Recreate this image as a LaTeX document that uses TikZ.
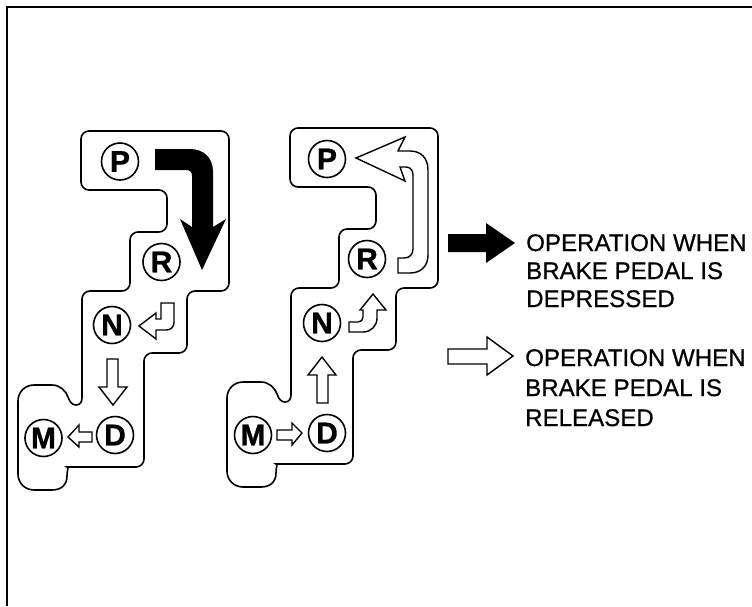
\documentclass[tikz,border=0pt]{standalone}
\usepackage{fontspec}
\setmainfont{Liberation Sans}
\usetikzlibrary{calc}

\tikzset{
	gear/.style={draw,circle,line width=1.6pt,minimum size=37pt,inner sep=0pt,font=\fontsize{30}{30}\selectfont\bfseries\addfontfeature{FakeBold=1}},
	outline/.style={line width=1.6pt},
	hollow/.style={line width=1.4pt,line join=miter,fill=white},
	solid/.style={fill=black,draw=none},
	opnote/.style={align=left,anchor=north west,inner sep=0pt,font=\fontsize{24.1}{28}\selectfont\addfontfeature{FakeBold=0.6}}
}
% shape of the selector gate, same for both panels
\newcommand{\gatepath}{
	\draw[outline,rounded corners=8] (81,131) -- (229,131) -- (229,291) -- (187,291) -- (187,353) -- (144,353) -- (144,467) -- (75,467) [sharp corners]
	.. controls (69,467) and (67,470) .. (67,476) .. controls (67,485) and (61,490) .. (52,490) -- (34,490)
	.. controls (25,490) and (18,483) .. (18,474) -- (18,401) .. controls (18,392) and (25,385) .. (34,385) -- (52,385)
	.. controls (60,385) and (66,391) .. (68,397) .. controls (70,403) and (73,405) .. (76,405) .. controls (80,405) and (82,402) .. (82,398)
	[rounded corners=8] -- (82,291) -- (130,291) -- (130,232) -- (167,232) -- (167,190) -- (81,190) -- cycle;
}

\begin{document}
\begin{tikzpicture}[x=1pt,y=-1pt]
	\useasboundingbox (0,0) rectangle (752,606);
	\fill[white] (0,0) rectangle (752,606);
	\draw[line width=2pt] (6.5,606) -- (6.5,7) -- (752,7);

	% left panel
	\gatepath
	\node[gear] (P1) at (120,161.5) {P};
	\node[gear] (R1) at (161.5,262) {R};
	\node[gear] (N1) at (112,325) {N};
	\node[gear] (D1) at (115,435) {D};
	\node[gear] (M1) at (43.5,438) {M};
	\fill[solid] (155,149) -- (190,149) .. controls (204,149) and (213,158) .. (213,172) -- (213,227) -- (226,219) -- (202,270) -- (180,219) -- (192,227) -- (192,176) .. controls (192,172) and (190,170) .. (186,170) -- (155,170) -- cycle;
	\draw[hollow] (139,326) -- (156,313) -- (156,319) -- (161,319) -- (161,303) -- (174,303) -- (174,322) .. controls (174,327) and (171,330) .. (166,330) -- (156,330) -- (156,339) -- cycle;
	\draw[hollow] (107,359) -- (118,359) -- (118,387) -- (127,387) -- (113,405) -- (99,387) -- (107,387) -- cycle;
	\draw[hollow] (68,437) -- (79,425) -- (79,432) -- (92,432) -- (92,442) -- (79,442) -- (79,447) -- cycle;

	% right panel
	\begin{scope}[shift={(209,-3)}]
	\gatepath
	\end{scope}
	\node[gear] (P2) at (327,159) {P};
	\node[gear] (R2) at (367,259) {R};
	\node[gear] (N2) at (322,323) {N};
	\node[gear] (D2) at (327,433) {D};
	\node[gear] (M2) at (253,435) {M};
	\draw[hollow] (356,158) -- (405,137) -- (398,151) -- (410,151) .. controls (421,151) and (428,158) .. (428,170) -- (428,255) .. controls (428,266) and (421,273) .. (410,273) -- (398,273) -- (398,258) -- (404,258) .. controls (410,258) and (413,254) .. (413,249) -- (413,175) .. controls (413,170) and (410,167) .. (406,167) -- (400,167) -- (405,181) -- cycle;
	\draw[hollow] (349,332) -- (349,322) -- (358,322) .. controls (361,322) and (363,320) .. (363,317) -- (363,310) -- (360,310) -- (373,294) -- (386,310) -- (377,310) -- (377,318) .. controls (377,326) and (371,332) .. (363,332) -- cycle;
	\draw[hollow] (317,403) -- (317,375) -- (308,375) -- (322,357) -- (336,375) -- (328,375) -- (328,403) -- cycle;
	\draw[hollow] (277,430) -- (292,430) -- (292,423) -- (302,433) -- (292,445) -- (292,440) -- (277,440) -- cycle;

	% legend
	\fill[solid] (448,234) -- (486,234) -- (486,223) -- (515,243) -- (486,263) -- (486,252) -- (448,252) -- cycle;
	\node[opnote] (opdown) at (526,234) {OPERATION WHEN\\BRAKE PEDAL IS\\DEPRESSED};
	\draw[hollow] (448,349) -- (487,349) -- (487,337) -- (513,356) -- (487,375) -- (487,364) -- (448,364) -- cycle;
	\node[opnote,font=\fontsize{24.1}{30}\selectfont\addfontfeature{FakeBold=0.6}] (opup) at (525,349) {OPERATION WHEN\\BRAKE PEDAL IS\\RELEASED};
\end{tikzpicture}
\end{document}
